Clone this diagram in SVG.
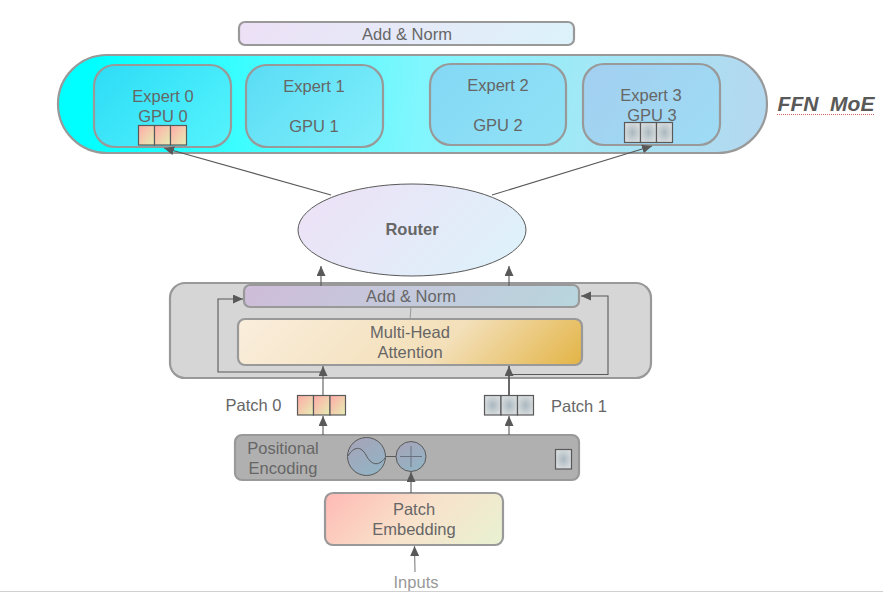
<svg xmlns="http://www.w3.org/2000/svg" width="883" height="593" viewBox="0 0 883 593">
<defs>
<linearGradient id="gTop" gradientUnits="userSpaceOnUse" x1="239" y1="22" x2="418" y2="201"><stop offset="0" stop-color="#eee0f6"/><stop offset="1" stop-color="#dcf3fb"/></linearGradient>
<linearGradient id="gRouter" gradientUnits="userSpaceOnUse" x1="298" y1="184" x2="458" y2="344"><stop offset="0" stop-color="#eee0f6"/><stop offset="1" stop-color="#dcf3fb"/></linearGradient>
<linearGradient id="gPill" gradientUnits="userSpaceOnUse" x1="90" y1="70" x2="745" y2="140"><stop offset="0" stop-color="#00ffff"/><stop offset="0.25" stop-color="#40fdff"/><stop offset="0.5" stop-color="#80f6fd"/><stop offset="0.75" stop-color="#a2e8f6"/><stop offset="1" stop-color="#b2d9ef"/></linearGradient>
<linearGradient id="gE0" gradientUnits="userSpaceOnUse" x1="94" y1="65" x2="204" y2="175"><stop offset="0" stop-color="#2ddcf6"/><stop offset="1" stop-color="#55f4fd"/></linearGradient>
<linearGradient id="gE1" gradientUnits="userSpaceOnUse" x1="246" y1="65" x2="356" y2="175"><stop offset="0" stop-color="#5adcf5"/><stop offset="1" stop-color="#80effb"/></linearGradient>
<linearGradient id="gE2" gradientUnits="userSpaceOnUse" x1="430" y1="64" x2="539" y2="173"><stop offset="0" stop-color="#84d8f4"/><stop offset="1" stop-color="#90e2f6"/></linearGradient>
<linearGradient id="gE3" gradientUnits="userSpaceOnUse" x1="583" y1="64" x2="692" y2="173"><stop offset="0" stop-color="#a3cff0"/><stop offset="1" stop-color="#9edcf4"/></linearGradient>
<linearGradient id="gNorm" gradientUnits="userSpaceOnUse" x1="244" y1="285" x2="422" y2="463"><stop offset="0" stop-color="#cfbcd9"/><stop offset="1" stop-color="#b8d6de"/></linearGradient>
<linearGradient id="gAttn" gradientUnits="userSpaceOnUse" x1="238" y1="319" x2="433" y2="514"><stop offset="0" stop-color="#faeedd"/><stop offset="0.6" stop-color="#f3dfb8"/><stop offset="1" stop-color="#e3b445"/></linearGradient>
<linearGradient id="gEmbed" gradientUnits="userSpaceOnUse" x1="325" y1="493" x2="440" y2="608"><stop offset="0" stop-color="#ffb9b4"/><stop offset="0.5" stop-color="#f8e2cb"/><stop offset="1" stop-color="#e8f2d2"/></linearGradient>
<linearGradient id="gCell" x1="0" y1="0" x2="1" y2="1"><stop offset="0" stop-color="#ffaaa6"/><stop offset="1" stop-color="#e5efb5"/></linearGradient>
<linearGradient id="gCirc" x1="0" y1="0" x2="0.6" y2="1"><stop offset="0" stop-color="#a8a3b8"/><stop offset="1" stop-color="#93b3c4"/></linearGradient>
<radialGradient id="gGrey"><stop offset="0" stop-color="#aab8c0"/><stop offset="1" stop-color="#d5dadc"/></radialGradient>
<marker id="arr" markerUnits="userSpaceOnUse" markerWidth="11" markerHeight="10" refX="10" refY="4.500" orient="auto"><path d="M0 0L10 4.500L0 9Z" fill="#595959"/></marker>
<style>
text{font-family:"Liberation Sans",Arial,sans-serif;font-size:16.500px;fill:#666;text-anchor:middle}
.box{stroke:#999;stroke-width:2.200}
.cell{stroke:#595959;stroke-width:1.200}
.c{fill:none;stroke:#595959;stroke-width:1.100;marker-end:url(#arr)}
</style>
</defs>
<line x1="0" y1="591.500" x2="883" y2="591.500" stroke="#d0d0d0" stroke-width="1"/>

<g id="ffn-norm"><rect class="box" x="239" y="22" width="335" height="23" rx="6" fill="url(#gTop)"/><text x="407" y="40">Add &amp; Norm</text></g>
<g id="ffn-moe"><rect class="box" x="58" y="55" width="709" height="98" rx="49" fill="url(#gPill)"/></g>
<g id="expert0"><rect class="box" x="94" y="65" width="137" height="82" rx="21" fill="url(#gE0)"/><text x="163" y="102">Expert 0</text><text x="163" y="122">GPU 0</text>
<g class="cell"><rect x="138.500" y="125.500" width="16" height="19.500" fill="url(#gCell)"/><rect x="154.500" y="125.500" width="16" height="19.500" fill="url(#gCell)"/><rect x="170.500" y="125.500" width="16" height="19.500" fill="url(#gCell)"/></g></g>
<g id="expert1"><rect class="box" x="246" y="65" width="137" height="82" rx="21" fill="url(#gE1)"/><text x="314" y="92">Expert 1</text><text x="314" y="132">GPU 1</text></g>
<g id="expert2"><rect class="box" x="430" y="64" width="136" height="81" rx="21" fill="url(#gE2)"/><text x="498" y="91">Expert 2</text><text x="498" y="131">GPU 2</text></g>
<g id="expert3"><rect class="box" x="583" y="64" width="137" height="81" rx="21" fill="url(#gE3)"/><text x="651" y="101">Expert 3</text><text x="652" y="121">GPU 3</text>
<g class="cell"><rect x="624.500" y="122.500" width="16" height="20" fill="url(#gGrey)"/><rect x="640.500" y="122.500" width="16" height="20" fill="url(#gGrey)"/><rect x="656.500" y="122.500" width="16" height="20" fill="url(#gGrey)"/></g></g>
<g id="ffn-label"><text x="826" y="111" style="font-size:21px;font-weight:bold;font-style:italic;fill:#595959" xml:space="preserve">FFN  MoE</text><line x1="777" y1="114.500" x2="875" y2="114.500" stroke="#e06060" stroke-width="1" stroke-dasharray="1 1"/></g>

<g id="encoder"><rect class="box" x="170" y="283" width="481" height="95" rx="15" fill="#d6d6d6"/></g>
<g id="router"><ellipse cx="412" cy="230" rx="114" ry="46" fill="url(#gRouter)" stroke="#595959" stroke-width="1"/><text x="412" y="235" style="font-weight:bold">Router</text></g>
<g id="enc-norm"><rect class="box" x="244" y="285" width="335" height="22" rx="6" fill="url(#gNorm)"/><text x="411" y="302">Add &amp; Norm</text></g>
<g id="attention"><rect class="box" x="238" y="319" width="344" height="46" rx="7" fill="url(#gAttn)"/><text x="410" y="338">Multi-Head</text><text x="410" y="358">Attention</text></g>

<g id="patch0"><text x="253.500" y="411">Patch 0</text>
<g class="cell"><rect x="297.500" y="395.500" width="16" height="19.500" fill="url(#gCell)"/><rect x="313.500" y="395.500" width="16.500" height="19.500" fill="url(#gCell)"/><rect x="330" y="395.500" width="15.500" height="19.500" fill="url(#gCell)"/></g></g>
<g id="patch1"><text x="579" y="412">Patch 1</text>
<g class="cell"><rect x="484.500" y="395.500" width="16.500" height="19.500" fill="url(#gGrey)"/><rect x="501" y="395.500" width="16.500" height="19.500" fill="url(#gGrey)"/><rect x="517.500" y="395.500" width="16" height="19.500" fill="url(#gGrey)"/></g></g>

<g id="positional"><rect class="box" x="235" y="435" width="344" height="45" rx="7" fill="#b0b0b0"/><text x="283" y="454">Positional</text><text x="283" y="474">Encoding</text>
<line x1="385" y1="456.500" x2="396" y2="456.500" stroke="#595959" stroke-width="1"/>
<circle cx="366.500" cy="456.500" r="19" fill="url(#gCirc)" stroke="#595959" stroke-width="1"/>
<path d="M348 456C354 446 361 446 366 455C371 465 378 467 385 458" fill="none" stroke="#595959" stroke-width="1"/>
<circle cx="411" cy="456.500" r="15" fill="url(#gCirc)" stroke="#595959" stroke-width="1"/>
<path d="M411 446V467M400 456.500H422" fill="none" stroke="#6a7280" stroke-width="1"/>
<rect class="cell" x="555.500" y="449.500" width="16" height="19.500" fill="url(#gGrey)"/></g>
<g id="embedding"><rect class="box" x="325" y="493" width="178" height="52" rx="8" fill="url(#gEmbed)"/><text x="414" y="515">Patch</text><text x="414" y="535">Embedding</text></g>
<g id="inputs"><text x="416" y="588" style="fill:#999">Inputs</text></g>

<g id="connectors">
<path class="c" d="M331 195L164 148"/>
<path class="c" d="M492 195L652 146"/>
<path class="c" d="M321 286V266"/>
<path class="c" d="M509 286V266"/>
<path d="M411 307L410 319" fill="none" stroke="#999" stroke-width="1"/>
<path class="c" d="M323 395V366"/>
<path class="c" d="M509 395V366" style="stroke-width:1.800"/>
<path class="c" d="M323 372H218V299H243"/>
<path class="c" d="M509 374.500H608V296H581"/>
<path class="c" d="M323 435V416"/>
<path class="c" d="M509 435V416"/>
<path class="c" d="M411 493V472"/>
<path class="c" d="M415 572L414.500 546" style="stroke:#808080"/>
</g>
</svg>
